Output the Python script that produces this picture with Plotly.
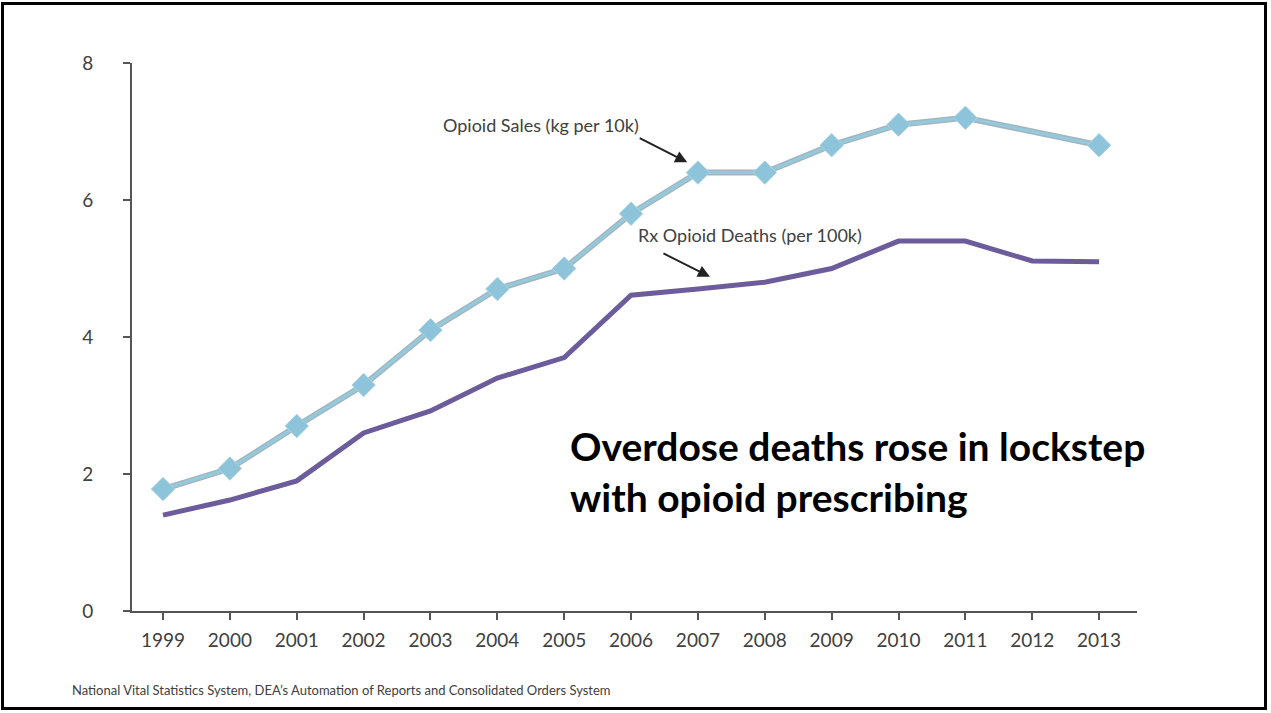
import plotly.graph_objects as go

years = list(range(1999, 2014))
opioid_sales = [1.78, 2.08, 2.70, 3.30, 4.10, 4.70, 5.00, 5.80, 6.40, 6.40, 6.80, 7.10, 7.20, None, 6.80]
rx_deaths = [1.40, 1.62, 1.90, 2.60, 2.92, 3.40, 3.70, 4.61, 4.70, 4.80, 5.00, 5.40, 5.40, 5.11, 5.10]
y_ticks = [0, 2, 4, 6, 8]

fig = go.Figure()

# Purple deaths line
fig.add_trace(go.Scatter(x=years, y=rx_deaths, mode="lines",
                         line=dict(color="#6D5C9C", width=5), connectgaps=True,
                         hoverinfo="skip"))
# Sales line: gray outline underneath
fig.add_trace(go.Scatter(x=years, y=opioid_sales, mode="lines",
                         line=dict(color="#A3B6C0", width=6), connectgaps=True,
                         hoverinfo="skip"))
fig.add_trace(go.Scatter(x=years, y=opioid_sales, mode="lines+markers",
                         line=dict(color="#93CADC", width=3), connectgaps=True,
                         marker=dict(symbol="diamond", size=18, color="#8EC4DA",
                                     line=dict(color="#A9D3E3", width=1)),
                         hoverinfo="skip"))

L, R, T, B = 132, 134, 63, 102
W, H = 1271, 713
pw, ph = W - L - R, H - T - B

def px_x(p):
    return (p - L) / pw

def px_y(p):
    return (H - B - p) / ph

fig.update_layout(
    width=W, height=H,
    margin=dict(l=L, r=R, t=T, b=B),
    paper_bgcolor="white", plot_bgcolor="white",
    showlegend=False,
    font=dict(family="Lato, 'Open Sans', sans-serif", color="#404040"),
)
fig.update_xaxes(range=[1998.536, 2013.567], tickvals=years, ticktext=[str(y) for y in years],
                 showgrid=False, zeroline=False, showline=True, linecolor="#555555", linewidth=2,
                 ticks="outside", ticklen=7, tickwidth=2, tickcolor="#555555",
                 tickfont=dict(size=19, color="#404040"), ticklabelstandoff=4)
fig.update_yaxes(range=[0, 8], tickvals=y_ticks, showgrid=False, zeroline=False,
                 showline=True, linecolor="#555555", linewidth=2,
                 ticks="outside", ticklen=7, tickwidth=2, tickcolor="#555555",
                 tickfont=dict(size=19, color="#404040"), ticklabelstandoff=26)

annotations = [
    dict(x=2006.84, y=6.55, xref="x", yref="y", ax=-49, ay=-25, text="",
         showarrow=True, arrowhead=2, arrowsize=1.2, arrowwidth=2, arrowcolor="#222222"),
    dict(x=2007.18, y=4.88, xref="x", yref="y", ax=-48, ay=-24, text="",
         showarrow=True, arrowhead=2, arrowsize=1.2, arrowwidth=2, arrowcolor="#222222"),
    dict(x=px_x(541), y=px_y(125), xref="paper", yref="paper", text="Opioid Sales (kg per 10k)",
         showarrow=False, font=dict(size=18, color="#404040"), xanchor="center", yanchor="middle"),
    dict(x=px_x(750), y=px_y(235), xref="paper", yref="paper", text="Rx Opioid Deaths (per 100k)",
         showarrow=False, font=dict(size=18, color="#404040"), xanchor="center", yanchor="middle"),
    dict(x=px_x(568), y=px_y(471), xref="paper", yref="paper",
         text="<b>Overdose deaths rose in lockstep<br>with opioid prescribing</b>",
         showarrow=False, align="left", xanchor="left", yanchor="middle",
         font=dict(size=39, color="black")),
    dict(x=px_x(70), y=px_y(690), xref="paper", yref="paper",
         text="National Vital Statistics System, DEA\u2019s Automation of Reports and Consolidated Orders System",
         showarrow=False, xanchor="left", yanchor="middle", font=dict(size=13, color="#404040")),
]
fig.update_layout(annotations=annotations)

fig.add_shape(type="rect", xref="paper", yref="paper",
              x0=px_x(2.5), x1=px_x(1265.5), y0=px_y(708.5), y1=px_y(3.5),
              line=dict(color="black", width=3), fillcolor="rgba(0,0,0,0)", layer="above")

fig.write_html("out.html")
